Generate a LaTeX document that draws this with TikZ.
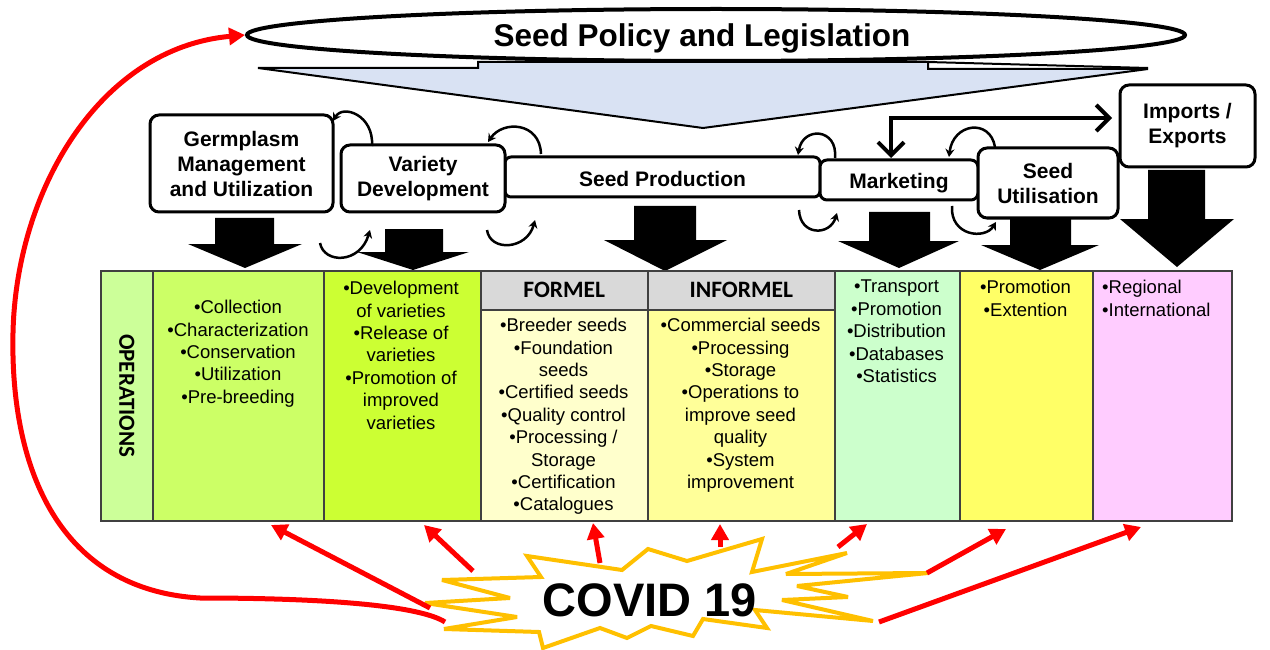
\documentclass[tikz,border=0pt]{standalone}
\usepackage{fontspec}
\setmainfont{Liberation Sans}
\newfontfamily\calib{Carlito}
\usetikzlibrary{shapes.geometric,arrows.meta}
\definecolor{triblue}{HTML}{D9E2F3}
\definecolor{tabline}{HTML}{404040}
\definecolor{hdrgray}{HTML}{D9D9D9}
\definecolor{colA}{HTML}{CCFF99}
\definecolor{colB}{HTML}{CCFF66}
\definecolor{colC}{HTML}{CCFF33}
\definecolor{colD}{HTML}{FFFFCC}
\definecolor{colE}{HTML}{FFFF99}
\definecolor{colF}{HTML}{CCFFCC}
\definecolor{colG}{HTML}{FFFF66}
\definecolor{colH}{HTML}{FFCCFF}
\definecolor{covred}{HTML}{FF0000}
\definecolor{burst}{HTML}{FFC000}
\newcommand{\fatarr}[7]{\fill[black] (#1,#3) -- (#2,#3) -- (#2,#4) -- (#6,#4) -- (#7) -- (#5,#4) -- (#1,#4) -- cycle;}
\begin{document}
\begin{tikzpicture}[x=1pt,y=-1pt,
  box/.style={draw, line width=3pt, rounded corners=9pt, fill=white, align=center, inner sep=0pt, font=\bfseries\fontsize{21}{25}\selectfont},
  loopar/.style={line width=2.5pt, -{Stealth[length=8pt,width=9pt]}},
  cell/.style={draw=tabline, line width=1.5pt, inner sep=0pt, anchor=north west},
  itm/.style={align=center, inner sep=0pt, anchor=north, font=\fontsize{18.5}{22.4}\selectfont},
  hdr/.style={font=\calib\bfseries\fontsize{23.5}{26}\selectfont, inner sep=0pt},
  redarr/.style={draw=covred, line width=5pt, -{Triangle[length=16pt,width=17pt]}}]
\useasboundingbox (0,0) rectangle (1270,650);
% pointer triangle
\filldraw[fill=triblue, draw=black, line width=2pt, line join=miter]
  (258,68) -- (478,68) -- (478,62) -- (928,62) -- (928,69) -- (1148,69) -- (703,128) -- cycle;
\draw[line width=2pt] (928,62) -- (1148,68);
% ellipse
\node[ellipse, draw, line width=4pt, fill=white, minimum width=938pt, minimum height=52pt, inner sep=0pt] (pol) at (716,35) {};
\node[font=\bfseries\fontsize{31.5}{36}\selectfont, inner sep=0pt, text depth=0pt] (title) at (702,35) {Seed Policy and Legislation};
% boxes
\node[box, rounded corners=6pt, minimum width=315pt, minimum height=40pt, text height=19pt, text depth=0pt] (sp) at (662.5,177) {Seed Production};
\node[box, minimum width=183pt, minimum height=97pt] (germ) at (241.5,163.5) {Germplasm\\Management\\and Utilization};
\node[box, minimum width=164pt, minimum height=67pt] (var) at (423,178.5) {Variety\\Development};
\node[box, rounded corners=7pt, minimum width=158pt, minimum height=40pt, text height=18pt, text depth=0pt] (mk) at (899,180) {Marketing};
\node[box, minimum width=140pt, minimum height=70pt] (su) at (1048,183) {Seed\\Utilisation};
\node[box, minimum width=135pt, minimum height=82pt] (ie) at (1187.5,126) {Imports /\\Exports};
% loop arrows
\draw[loopar] (372,146) .. controls (374,115) and (343,104) .. (333,121);
\draw[loopar] (541,154) .. controls (540,122) and (503,120) .. (488,142);
\draw[loopar] (320,243) .. controls (324,264) and (360,264) .. (370,230);
\draw[loopar] (487,230) .. controls (490,252) and (527,250) .. (535,220);
\draw[loopar] (835,158) .. controls (838,128) and (803,126) .. (798,155);
\draw[loopar] (799,210) .. controls (800,236) and (830,236) .. (837,213);
\draw[loopar] (995,147) .. controls (990,118) and (953,123) .. (949,157);
\draw[loopar] (952,206) .. controls (950,236) and (985,240) .. (996,222);
% long double arrow
\coordinate (mkt) at (891,158);
\coordinate (iel) at (1112,118);
\draw[line width=4pt, {Straight Barb[length=13pt,width=26pt]}-{Straight Barb[length=13pt,width=26pt]}] (mkt) |- (iel);
% block arrows
\fatarr{215}{274}{218}{244}{188}{302}{245,268}
\fatarr{385}{443}{229}{252}{357}{469}{413,270}
\fatarr{634}{696}{206}{240}{604}{727}{665,271}
\fatarr{869}{930}{212}{241}{838}{959}{899,268}
\fatarr{1010}{1071}{218}{245}{981}{1099}{1040,270}
\fatarr{1148}{1205}{170}{219}{1120}{1234}{1177,267}
% table
\node[cell, fill=colA, minimum width=52pt, minimum height=250pt] (c1) at (100,270) {};
\node[cell, fill=colB, minimum width=171pt, minimum height=250pt] (c2) at (152,270) {};
\node[cell, fill=colC, minimum width=157pt, minimum height=250pt] (c3) at (323,270) {};
\node[cell, fill=hdrgray, minimum width=167pt, minimum height=39pt] (h4) at (480,270) {};
\node[cell, fill=colD, minimum width=167pt, minimum height=211pt] (c4) at (480,309) {};
\node[cell, fill=hdrgray, minimum width=187pt, minimum height=39pt] (h5) at (647,270) {};
\node[cell, fill=colE, minimum width=187pt, minimum height=211pt] (c5) at (647,309) {};
\node[cell, fill=colF, minimum width=125pt, minimum height=250pt] (c6) at (834,270) {};
\node[cell, fill=colG, minimum width=133pt, minimum height=250pt] (c7) at (959,270) {};
\node[cell, fill=colH, minimum width=139pt, minimum height=250pt] (c8) at (1092,270) {};
\node[rotate=-90, font=\calib\bfseries\fontsize{23}{26}\selectfont, inner sep=0pt] (ops) at (c1.center) {OPERATIONS};
\node[hdr] (fm) at (h4.center) {FORMEL};
\node[hdr] (inf) at (h5.center) {INFORMEL};
\node[itm] (t2) at (238,300) {•Collection\\•Characterization\\•Conservation\\•Utilization\\•Pre-breeding};
\node[itm] (t3) at (401,281) {•Development\\of varieties\\•Release of\\varieties\\•Promotion of\\improved\\varieties};
\node[itm] (t4) at (563.5,318) {•Breeder seeds\\•Foundation\\seeds\\•Certified seeds\\•Quality control\\•Processing /\\Storage\\•Certification\\•Catalogues};
\node[itm] (t5) at (740.5,318) {•Commercial seeds\\•Processing\\•Storage\\•Operations to\\improve seed\\quality\\•System\\improvement};
\node[itm] (t6) at (896.5,280) {•Transport\\•Promotion\\•Distribution\\•Databases\\•Statistics};
\node[itm] (t7) at (1025.5,280) {•Promotion\\•Extention};
\node[itm, anchor=north west, align=left] (t8) at (1102,280) {•Regional\\•International};
% covid burst
\filldraw[fill=white, draw=burst, line width=4pt, line join=miter, miter limit=4]
 (527,556) -- (622,570) -- (648,549) -- (687,561) -- (762,539) -- (752,572) -- (847,553) -- (786,574) -- (928,573) -- (797,586) -- (848,597) -- (782,600) -- (873,621) -- (755,610) -- (767,628) -- (703,619) -- (693,636) -- (651,626) -- (627,638) -- (600,628) -- (543,648) -- (539,632) -- (444,629) -- (517,617) -- (425,603) -- (510,598) -- (442,580) -- (541,577) -- cycle;
\node[font=\bfseries\fontsize{47}{50}\selectfont, inner sep=0pt] (cov) at (650,600) {COVID 19};
% red arrows
\coordinate (sA) at (430,608); \coordinate (eA) at (271,525);
\coordinate (sB) at (473,571); \coordinate (eB) at (424,525);
\coordinate (sC) at (600,563); \coordinate (eC) at (593,523);
\coordinate (sD) at (720,547); \coordinate (eD) at (720,524);
\coordinate (sE) at (838,547); \coordinate (eE) at (867,524);
\coordinate (sF) at (927,573); \coordinate (eF) at (1006,529);
\coordinate (sG) at (879,622); \coordinate (eG) at (1141,527);
\coordinate (sH) at (445,622);
\draw[redarr] (sA) -- (eA);
\draw[redarr] (sB) -- (eB);
\draw[redarr] (sC) -- (eC);
\draw[redarr] (sD) -- (eD);
\draw[redarr] (sE) -- (eE);
\draw[redarr] (sF) -- (eF);
\draw[redarr] (sG) -- (eG);
\draw[redarr] (sH) .. controls (420,606) and (330,598) .. (200,598) .. controls (60,590) and (10,470) .. (13,333) .. controls (16,190) and (100,48) .. (pol.west);
\end{tikzpicture}
\end{document}
